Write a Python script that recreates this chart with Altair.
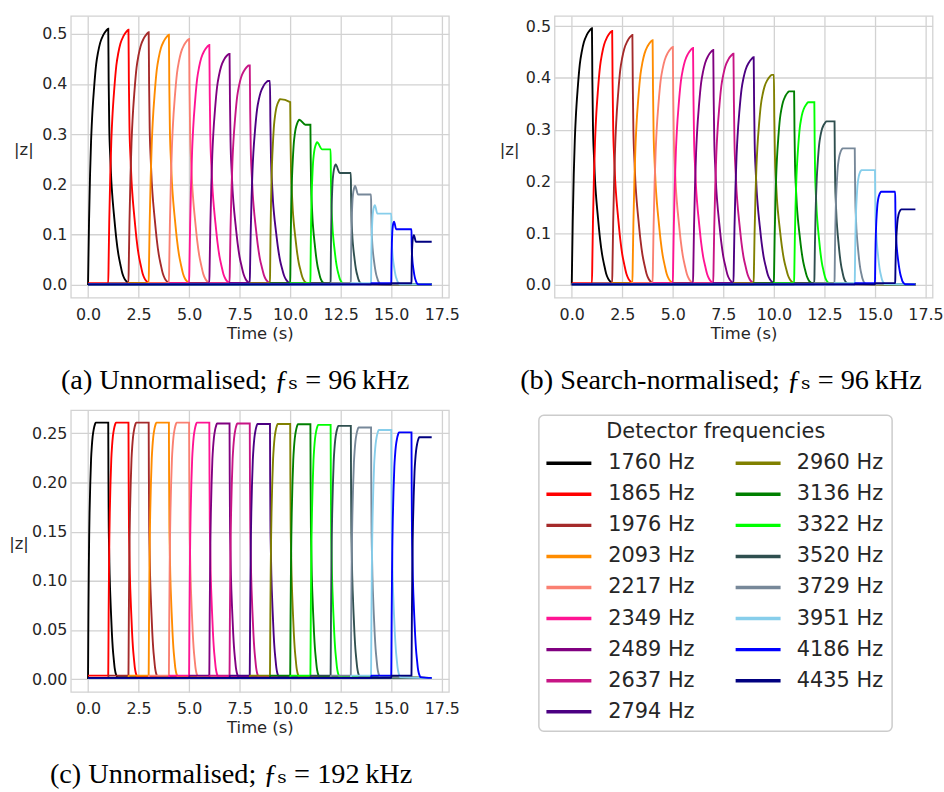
import altair as alt
import pandas as pd

# ---------------- data ----------------
FREQS = [1760, 1865, 1976, 2093, 2217, 2349, 2489, 2637, 2794,
         2960, 3136, 3322, 3520, 3729, 3951, 4186, 4435]
COLORS = ["#000000", "#ff0000", "#a52a2a", "#ff8c00", "#fa8072", "#ff1493",
          "#800080", "#c71585", "#4b0082", "#808000", "#008000", "#00ff00",
          "#2f4f4f", "#778899", "#87ceeb", "#0000ff", "#000080"]
LABELS = [f"{f} Hz" for f in FREQS]

TIME_TICKS = [0.0, 2.5, 5.0, 7.5, 10.0, 12.5, 15.0, 17.5]
Z_TICKS_96 = [0.0, 0.1, 0.2, 0.3, 0.4, 0.5]
Z_TICKS_192 = [0.0, 0.05, 0.10, 0.15, 0.20, 0.25]

# normalised rise / decay profiles
RISE_U = [0.02, 0.05, 0.1, 0.15, 0.2, 0.3, 0.4, 0.5, 0.6, 0.75, 0.9, 1.0]
RISE_FRAC = [0.10, 0.25, 0.43, 0.56, 0.65, 0.77, 0.86, 0.91, 0.945, 0.975, 0.993, 1.0]
DECAY_V = [0.02, 0.05, 0.1, 0.15, 0.2, 0.3, 0.4, 0.5, 0.6, 0.7, 0.8, 0.9, 1.0]
DECAY_FRAC = [0.80, 0.62, 0.50, 0.41, 0.35, 0.26, 0.18, 0.12, 0.08, 0.045, 0.025, 0.014, 0.008]

# (a) unnormalised, 96 kHz
A_PEAK = [0.510, 0.508, 0.503, 0.498, 0.490, 0.478, 0.460, 0.437, 0.406,
          0.370, 0.329, 0.284, 0.240, 0.197, 0.159, 0.126, 0.099]
A_END = [0.510, 0.508, 0.503, 0.498, 0.490, 0.478, 0.460, 0.437, 0.406,
         0.364, 0.319, 0.270, 0.223, 0.180, 0.142, 0.111, 0.086]
A_TPEAK = [1.0, 1.0, 1.0, 1.0, 1.0, 1.0, 0.97, 0.95, 0.9,
           0.5, 0.45, 0.33, 0.25, 0.21, 0.19, 0.14, 0.12]
A_SETTLE = [0, 0, 0, 0, 0, 0, 0, 0, 0,
            0, 0.3, 0.25, 0.2, 0.15, 0.12, 0.1, 0.1]
A_DECAY = [1.0, 1.0, 1.0, 1.0, 1.0, 1.0, 1.0, 1.0, 1.0,
           0.85, 0.7, 0.65, 0.55, 0.5, 0.45, 0.35, 0.3]

# (b) search-normalised, 96 kHz
B_END = [0.496, 0.491, 0.483, 0.473, 0.460, 0.458, 0.454, 0.447, 0.440,
         0.406, 0.374, 0.353, 0.316, 0.264, 0.222, 0.180, 0.146]
B_RISE = [1.0, 1.0, 1.0, 1.0, 1.0, 1.0, 1.0, 1.0, 1.0,
          0.9, 0.75, 0.7, 0.6, 0.4, 0.33, 0.3, 0.3]
B_DECAY = [1.0, 1.0, 1.0, 1.0, 1.0, 1.0, 1.0, 1.0, 1.0,
           1.0, 0.9, 0.75, 0.65, 0.55, 0.5, 0.5, 0.5]

# (c) unnormalised, 192 kHz
C_END = [0.261, 0.261, 0.261, 0.261, 0.261, 0.261, 0.260, 0.260, 0.2596,
         0.2596, 0.2593, 0.2586, 0.2576, 0.256, 0.2535, 0.251, 0.246]
C_RISE = [0.38, 0.38, 0.38, 0.38, 0.38, 0.38, 0.38, 0.38, 0.38,
          0.38, 0.38, 0.38, 0.38, 0.38, 0.38, 0.38, 0.38]
C_DECAY = [0.45, 0.45, 0.45, 0.45, 0.45, 0.45, 0.45, 0.45, 0.45,
           0.45, 0.45, 0.45, 0.45, 0.45, 0.45, 0.45, 0.45]

NO_SETTLE = [0] * 17
BASE = 0.0012
LEAK = 0.0035
T_END = 17.0

CAPTIONS = ["(a) Unnormalised; \u0192\u209b = 96\u2009kHz",
            "(b) Search-normalised; \u0192\u209b = 96\u2009kHz",
            "(c) Unnormalised; \u0192\u209b = 192\u2009kHz"]


def build(peaks, ends, tpeaks, settles, decays):
    rows = []
    n = len(FREQS)
    for i in range(n):
        pts = []
        if i >= 2:
            pts += [(0.0, BASE), (i - 1.0, BASE), (i - 0.99, LEAK), (i - 0.001, LEAK)]
        elif i == 1:
            pts += [(0.0, LEAK), (0.999, LEAK)]
        else:
            pts += [(0.0, 0.0)]
        tp = tpeaks[i]
        for u, f in zip(RISE_U, RISE_FRAC):
            pts.append((i + u * tp, max(peaks[i] * f, LEAK)))
        if tp < 1.0:
            st = settles[i]
            if st > 0 and tp + st < 1.0:
                pts.append((i + tp + st, ends[i]))
            pts.append((i + 1.0, ends[i]))
        if i < n - 1:
            ds = decays[i]
            for v, f in zip(DECAY_V, DECAY_FRAC):
                pts.append((i + 1.0 + v * ds, max(ends[i] * f, BASE)))
            if i + 1.0 + ds < T_END:
                pts.append((T_END, BASE))
        for k, (t, z) in enumerate(pts):
            rows.append({"det": LABELS[i], "i": i, "k": k, "t": t, "z": z})
    return pd.DataFrame(rows)


df_a = build(A_PEAK, A_END, A_TPEAK, A_SETTLE, A_DECAY)
df_b = build(B_END, B_END, B_RISE, NO_SETTLE, B_DECAY)
df_c = build(C_END, C_END, C_RISE, NO_SETTLE, C_DECAY)

SANS = "DejaVu Sans"
SERIF = "'Liberation Serif', 'DejaVu Serif', serif"
TXT = "#262626"
GRID = "#d2d2d2"

color_scale = alt.Scale(domain=LABELS, range=COLORS)


def panel(df, zdom, zticks, zfmt, caption, title_x, cap_dx):
    return alt.Chart(df).mark_line(strokeWidth=1.9, interpolate="monotone", clip=True).encode(
        x=alt.X("t:Q", scale=alt.Scale(domain=[-0.85, 17.85], nice=False, zero=False),
                axis=alt.Axis(values=TIME_TICKS, format=".1f", title="Time (s)")),
        y=alt.Y("z:Q", scale=alt.Scale(domain=zdom, nice=False, zero=False),
                axis=alt.Axis(values=zticks, format=zfmt, title="|z|", titleAngle=0,
                              titleX=title_x, titleY=135, titleAlign="center",
                              titleBaseline="middle")),
        color=alt.Color("det:N", scale=color_scale, legend=None),
        order=alt.Order("k:Q"),
    ).properties(
        width=381, height=284,
        title=alt.TitleParams(text=caption, orient="bottom", anchor="middle", frame="group",
                              offset=24, dx=cap_dx, font=SERIF, fontSize=28.5,
                              fontWeight="normal", color="#000000"),
    )


def spacer():
    return alt.Chart(pd.DataFrame({"v": [0]})).mark_point(size=0, opacity=0).encode(
        x=alt.value(0), y=alt.value(0)
    ).properties(width=1, height=1, view=alt.ViewBackground(stroke="transparent"))


pa = panel(df_a, [-0.0255, 0.5355], Z_TICKS_96, ".1f", CAPTIONS[0], -47.8, -25)
pb = panel(df_b, [-0.0247, 0.5197], Z_TICKS_96, ".1f", CAPTIONS[1], -45.8, -22.8)
pc = panel(df_c, [-0.013, 0.2737], Z_TICKS_192, ".2f", CAPTIONS[2], -52.8, -29)

# ---------------- legend panel (built from the same lists) ----------------
LEG_W, LEG_H = 356, 318.3
leg = pd.DataFrame({"det": LABELS, "idx": list(range(len(LABELS)))})
leg["col"] = leg["idx"] // 9
leg["row"] = leg["idx"] % 9
leg["x1"] = 7.6 + 190.7 * leg["col"]
leg["x2"] = leg["x1"] + 45.3
leg["xt"] = 70.0 + 190.0 * leg["col"]
leg["y"] = 48.3 + 31.3 * leg["row"]

xs = alt.Scale(domain=[0, LEG_W], range=[0, LEG_W])
ys = alt.Scale(domain=[0, LEG_H], range=[0, LEG_H])

leg_lines = alt.Chart(leg).mark_rule(strokeWidth=3.5).encode(
    x=alt.X("x1:Q", scale=xs, axis=None), x2="x2:Q",
    y=alt.Y("y:Q", scale=ys, axis=None),
    color=alt.Color("det:N", scale=color_scale, legend=None),
)
leg_text = alt.Chart(leg).mark_text(align="left", baseline="middle", font=SANS,
                                    fontSize=21, color=TXT).encode(
    x=alt.X("xt:Q", scale=xs, axis=None),
    y=alt.Y("y:Q", scale=ys, axis=None),
    text="det:N",
)
leg_title = alt.Chart(pd.DataFrame({"s": ["Detector frequencies"]})).mark_text(
    align="center", baseline="middle", font=SANS, fontSize=21, color=TXT
).encode(x=alt.value(178.3), y=alt.value(17.3), text="s:N")

legend_panel = alt.layer(leg_lines, leg_text, leg_title).properties(
    width=LEG_W, height=LEG_H,
    view=alt.ViewBackground(stroke="#cccccc", strokeWidth=1.5, cornerRadius=5, fill="white"),
)

row1 = alt.hconcat(pa, pb, spacing=37.5).resolve_scale(x="independent", y="independent")
legend_col = alt.vconcat(spacer(), legend_panel, spacing=2.3).resolve_scale(x="independent", y="independent")
row2 = alt.hconcat(pc, legend_col, spacing=77.7).resolve_scale(x="independent", y="independent")

chart = alt.vconcat(row1, row2, spacing=14.2).resolve_scale(
    x="independent", y="independent"
).properties(
    padding={"left": 7.4, "top": 12, "right": 0, "bottom": 0},
    background="white",
).configure_axis(
    grid=True, gridColor=GRID, gridWidth=1.3, ticks=False, domain=False,
    labelFont=SANS, labelFontSize=16, labelColor=TXT,
    titleFont=SANS, titleFontSize=16.5, titleFontWeight="normal", titleColor=TXT,
).configure_axisX(labelPadding=9, titlePadding=3).configure_axisY(labelPadding=4).configure_view(
    stroke=GRID, strokeWidth=1.3
)

chart.save("out.html", embed_options={"renderer": "svg", "actions": False})
